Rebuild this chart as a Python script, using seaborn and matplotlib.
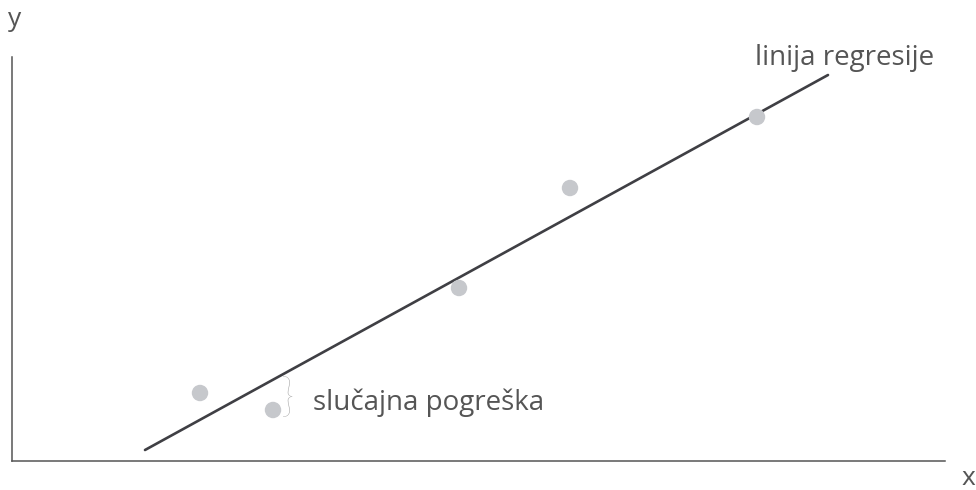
import matplotlib
matplotlib.use("Agg")
import matplotlib.pyplot as plt
import seaborn as sns
import pandas as pd

# data (in plot units)
point_x = [188, 261, 447, 558, 745]
point_y = [68, 51, 173, 273, 344]
line_x = [133, 816]
line_y = [11, 386]

sns.set_style("white")
plt.rcParams['font.family'] = ['Open Sans', 'DejaVu Sans']

fig = plt.figure(figsize=(9.76, 4.9), dpi=100)
ax = fig.add_axes([12/976, 29/490, 933/976, 404/490])

sns.lineplot(x=line_x, y=line_y, ax=ax, color="#3f3f44", linewidth=1.9)
sns.scatterplot(x=point_x, y=point_y, ax=ax, s=140, color="#c6c8cc",
                edgecolor="none", zorder=3)

ax.set_xlim(0, 933)
ax.set_ylim(0, 404)
ax.set_xticks([])
ax.set_yticks([])
sns.despine(ax=ax, top=True, right=True)
for side in ("left", "bottom"):
    ax.spines[side].set_color("#555555")
    ax.spines[side].set_linewidth(1.1)
ax.set_xlabel("")
ax.set_ylabel("")

ax.text(743, 403, "linija regresije", fontsize=20, color="#555555",
        va="center", ha="left", clip_on=False)
ax.text(301, 58, "slučajna pogreška", fontsize=20, color="#555555",
        va="center", ha="left")
ax.text(276, 62, "}", fontsize=33, color="#a0a0a0", va="center",
        ha="center", fontweight="light", family=["Lato", "DejaVu Sans"])

fig.text(15/976, 1 - 20/490, "y", fontsize=19, color="#555555",
         va="center", ha="center")
fig.text(968/976, 1 - 478/490, "x", fontsize=19, color="#555555",
         va="center", ha="center")

fig.savefig("out.png", dpi=100, facecolor="white")
